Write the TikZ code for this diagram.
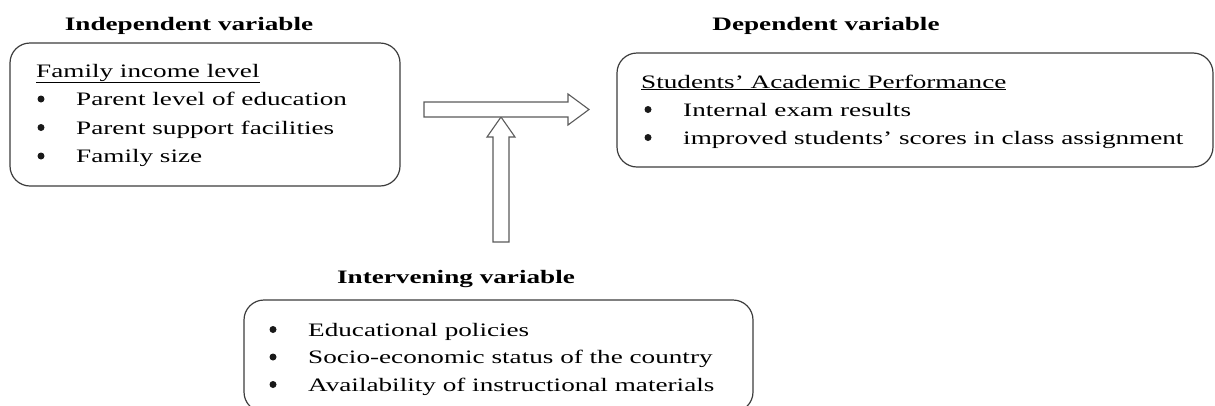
\documentclass[tikz,border=0pt]{standalone}
\usepackage{fontspec}
\setmainfont{Liberation Serif}[FakeStretch=1.43]
\definecolor{boxline}{HTML}{3C3C3C}
\definecolor{arrowline}{HTML}{5A5A5A}
\begin{document}
\begin{tikzpicture}[x=1pt,y=-1pt,
  varbox/.style={draw=boxline, line width=1.2pt, rounded corners=20pt,
    inner sep=0pt, minimum width=#1},
  heading/.style={anchor=base, inner sep=0pt,
    font=\fontsize{19}{23}\selectfont\bfseries},
  item/.style={anchor=base west, inner sep=0pt,
    font=\fontsize{19}{23}\selectfont},
  dot/.style={circle, fill=black!90, inner sep=0pt, minimum size=7pt,
    yshift=6.5pt}]
\tikzset{blockarrow/.style={draw=arrowline, line width=1.1pt, fill=white,
    line join=miter}}
\clip (0,0) rectangle (1215,405);

% ---- independent variable
\node[heading] (indepT) at (189,30) {Independent variable};
\node[varbox=390pt, minimum height=143pt] (indep) at (205,114.5) {};
\node[item] (indep0) at (36,77) {\underline{Family income level}};
\node[dot]  (indepB1) at (41,105.5) {};
\node[item] (indep1) at (76,105.5) {Parent level of education};
\node[dot]  (indepB2) at (41,134) {};
\node[item] (indep2) at (76,134) {Parent support facilities};
\node[dot]  (indepB3) at (41,162.5) {};
\node[item] (indep3) at (76,162.5) {Family size};

% ---- dependent variable
\node[heading] (depT) at (826,30) {Dependent variable};
\node[varbox=596pt, minimum height=114pt] (dep) at (915,110) {};
\node[item] (dep0) at (641,88) {\underline{Students’ Academic Performance}};
\node[dot]  (depB1) at (648,116) {};
\node[item] (dep1) at (683,116) {Internal exam results};
\node[dot]  (depB2) at (648,144) {};
\node[item] (dep2) at (683,144) {improved students’ scores in class assignment};

% ---- intervening variable
\node[heading] (intT) at (456,283) {Intervening variable};
\node[varbox=509pt, minimum height=112pt] (int) at (498.5,356) {};
\node[dot]  (intB1) at (273,336) {};
\node[item] (int1) at (308,336) {Educational policies};
\node[dot]  (intB2) at (273,363.5) {};
\node[item] (int2) at (308,363.5) {Socio-economic status of the country};
\node[dot]  (intB3) at (273,391) {};
\node[item] (int3) at (308,391) {Availability of instructional materials};

% ---- block arrows
\coordinate (hTail) at (424,109.5);
\coordinate (vTail) at (501,242);
\draw[blockarrow] (vTail) ++(-8,0) -- ++(0,-105) -- ++(-6,0) -- ++(14,-20)
  -- ++(14,20) -- ++(-6,0) -- ++(0,105) -- cycle;
\draw[blockarrow] (hTail) ++(0,-7.5) -- ++(144,0) -- ++(0,-8) -- ++(21,15.5)
  -- ++(-21,15.5) -- ++(0,-8) -- ++(-144,0) -- cycle;
\end{tikzpicture}
\end{document}
